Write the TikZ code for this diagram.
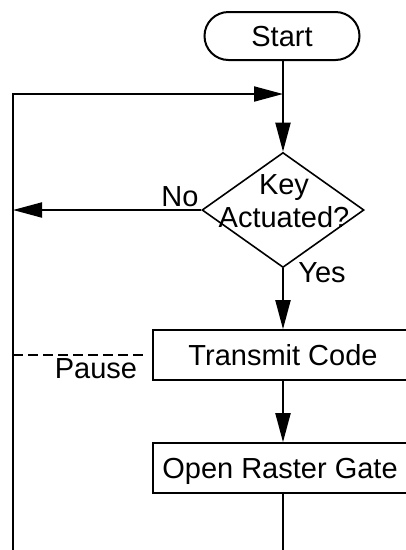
\documentclass[tikz,border=0pt]{standalone}
\usepackage{fontspec}
\setmainfont{Liberation Sans}
\usetikzlibrary{arrows.meta,shapes.geometric}
\tikzset{
  ln/.style={line width=2pt},
  arr/.style={ln,-{Triangle[length=29pt,width=15pt]}},
  boxnode/.style={draw,line width=1.6pt,minimum width=260pt,minimum height=50pt,inner sep=0pt,text height=20pt,text depth=0pt},
  startnode/.style={draw,line width=2pt,rounded corners=24pt,minimum width=155pt,minimum height=48pt,inner sep=0pt,text height=20pt,text depth=0pt},
  decnode/.style={draw,diamond,line width=1.6pt,minimum width=162pt,minimum height=115pt,inner sep=0pt},
  lbl/.style={inner sep=0pt,text height=20pt,text depth=0pt},
}
\begin{document}
\begin{tikzpicture}[x=1pt,y=-1pt,font=\fontsize{29}{33}\selectfont]
\useasboundingbox (0,0) rectangle (406,550);
\clip (0,0) rectangle (406,550);
\node[startnode] (start) at (282,36) {Start};
\node[decnode] (d) at (283,210) {};
\node[align=center,inner sep=0pt] (dtext) at (284,201) {Key\\Actuated?};
\node[boxnode] (tc) at (283,355) {Transmit Code};
\node[boxnode] (org) at (283,468) {\hspace*{-6pt}Open Raster Gate};
\coordinate (lt) at (13,94);
\coordinate (lb) at (13,550);
\coordinate (j) at (283,94);
\coordinate (bot) at (283,550);
\node[lbl] (no) at (180,196) {No};
\node[lbl] (yes) at (322,272) {Yes};
\node[lbl] (pause) at (96,368) {Pause};
\draw[ln] (start.south -| d.north) -- (j);
\draw[arr] (j) -- (d.north);
\draw[arr] (lb) -- (lt) -- (j);
\draw[arr] (d.west) -- (d.west -| lt);
\draw[arr] (d.south) -- (tc.north);
\draw[arr] (tc.south) -- (org.north);
\draw[ln] (org.south) -- (bot);
\draw[line width=1.6pt,dash pattern=on 10pt off 5pt] (lt |- tc.west) -- ([xshift=-5pt]tc.west);
\end{tikzpicture}
\end{document}
